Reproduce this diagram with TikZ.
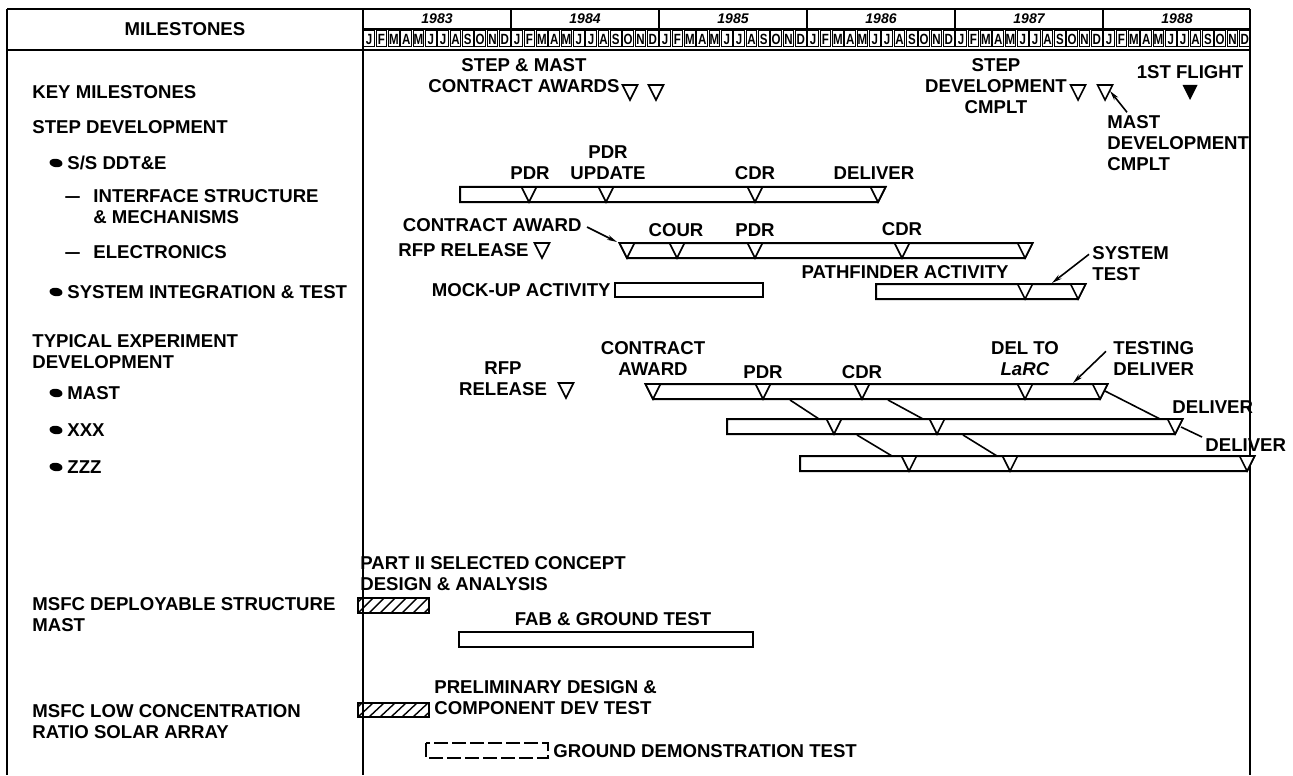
\documentclass[tikz,border=0pt]{standalone}
\usepackage{fontspec}
\setmainfont{Liberation Sans}
\usepackage{graphicx}
\usetikzlibrary{arrows.meta}
\newcommand\ml[1]{\scalebox{0.78}[1]{#1}}
\newcommand\labfont{\fontsize{9.3}{10.5}\selectfont\bfseries}
\begin{document}
\begin{tikzpicture}[x=0.5pt,y=-0.5pt,
  lab/.style={inner sep=0pt, font=\labfont, align=left},
  clab/.style={inner sep=0pt, font=\labfont, align=center},
  frame/.style={line width=1.1pt},
  barbox/.style={line width=1pt, fill=white},
  tri/.style={line width=0.8pt, line join=miter, fill=white},
  arr/.style={line width=0.8pt, -{Stealth[length=5pt,width=2.4pt]}},
  lead/.style={line width=0.8pt},
  yr/.style={inner sep=0pt, font=\fontsize{7}{8}\selectfont\bfseries\itshape},
  mo/.style={inner sep=0pt, font=\fontsize{7.4}{8}\selectfont\bfseries},
  mobox/.style={line width=0.5pt},
  bul/.style={x radius=6.5, y radius=4.2}]
\useasboundingbox (0,0) rectangle (1293,775);
\newcommand\tri[2]{\draw[tri] (#1-7.5,#2) -- (#1+7.5,#2) -- (#1,#2+15) -- cycle;}
% ---------- frame ----------
\draw[frame] (7,9) -- (1250,9);
\draw[frame] (7,9) -- (7,775);
\draw[frame] (1250,9) -- (1250,775);
\draw[frame] (363,9) -- (363,775);
\draw[frame] (7,50) -- (1250,50);
\draw[line width=0.8pt] (363,29) -- (1250,29);
\foreach \k/\yy in {0/1983,1/1984,2/1985,3/1986,4/1987,5/1988}{
  \draw[line width=0.8pt] (363+148*\k,9) -- (363+148*\k,29);
  \node[yr] (y\yy) at (363+148*\k+74,19) {\yy};
}
\foreach \m/\l in {0/J,1/F,2/M,3/A,4/M,5/J,6/J,7/A,8/S,9/O,10/N,11/D}{
  \foreach \k in {0,...,5}{
    \draw[mobox] (363+148*\k+12.333*\m+0.9,31) rectangle (363+148*\k+12.333*\m+11.4,47);
    \node[mo] (m\k-\m) at (363+148*\k+12.333*\m+6.17,39) {\ml{\l}};
  }
}
\node[lab] (hdr) at (185,29) {MILESTONES};
% ---------- left column ----------
\node[lab,anchor=west] (keym) at (32,92) {KEY MILESTONES};
\node[lab,anchor=west] (stepd) at (32,127) {STEP DEVELOPMENT};
\fill[rotate around={-8:(56,163)}] (56,163) ellipse [bul];
\node[lab,anchor=west] (ssd) at (67,163) {S/S DDT\&E};
\node[lab,anchor=base west] (d1) at (65,202.6) {\ml{—}};
\node[lab,anchor=north west] (ifs) at (93,189.3) {INTERFACE STRUCTURE\\\& MECHANISMS};
\node[lab,anchor=base west] (d2) at (65,258.6) {\ml{—}};
\node[lab,anchor=west] (elec) at (93,252) {ELECTRONICS};
\fill[rotate around={-8:(56,292)}] (56,292) ellipse [bul];
\node[lab,anchor=west] (sit) at (67,292) {SYSTEM INTEGRATION \& TEST};
\node[lab,anchor=north west] (typ) at (32,334.3) {TYPICAL EXPERIMENT\\DEVELOPMENT};
\fill[rotate around={-8:(56,393)}] (56,393) ellipse [bul];
\node[lab,anchor=west] (lmast) at (67,393) {MAST};
\fill[rotate around={-8:(56,430)}] (56,430) ellipse [bul];
\node[lab,anchor=west] (lxxx) at (67,430) {XXX};
\fill[rotate around={-8:(56,467)}] (56,467) ellipse [bul];
\node[lab,anchor=west] (lzzz) at (67,467) {ZZZ};
\node[lab,anchor=north west] (msfc1) at (32,597.3) {MSFC DEPLOYABLE STRUCTURE\\MAST};
\node[lab,anchor=north west] (msfc2) at (32,704.3) {MSFC LOW CONCENTRATION\\RATIO SOLAR ARRAY};
% ---------- key milestones ----------
\node[clab,anchor=north] (stepmast) at (524,58.3) {STEP \& MAST\\CONTRACT AWARDS};
\tri{630}{85}\tri{656}{85}
\node[clab,anchor=north] (stepdev) at (996,58.3) {STEP\\DEVELOPMENT\\CMPLT};
\tri{1078}{85}\tri{1105}{85}
\node[lab,anchor=north west] (mastdev) at (1107,115.3) {MAST\\DEVELOPMENT\\CMPLT};
\coordinate (mdtip) at (1110,91);
\draw[arr] ([shift={(20,-3)}]mastdev.north west) -- (mdtip);
\node[lab] (flight) at (1190,72) {1ST FLIGHT};
\fill (1182.5,85) -- (1197.5,85) -- (1190,100) -- cycle;
% ---------- S/S DDT&E : interface structure ----------
\draw[barbox] (460,187) -- (885.5,187) -- (878,202) -- (460,202) -- cycle;
\tri{529}{187}\tri{606}{187}\tri{755}{187}\tri{878}{187}
\node[lab] (pdr1) at (530,173) {PDR};
\node[clab,anchor=north] (pdrup) at (608,145.3) {PDR\\UPDATE};
\node[lab] (cdr1) at (755,173) {CDR};
\node[lab] (del1) at (874,173) {DELIVER};
% ---------- electronics ----------
\draw[barbox] (619.5,243) -- (1032.5,243) -- (1025,258) -- (627,258) -- cycle;
\tri{627}{243}\tri{677}{243}\tri{755}{243}\tri{902}{243}\tri{1025}{243}
\node[lab,anchor=east] (caward) at (582,225) {CONTRACT AWARD};
\coordinate (catip) at (617,242);
\draw[arr] ([shift={(5,2)}]caward.east) -- (catip);
\node[lab,anchor=east] (rfp1) at (529,250) {RFP RELEASE};
\tri{542}{243}
\node[lab] (cour) at (676,230) {COUR};
\node[lab] (pdr2) at (755,230) {PDR};
\node[lab] (cdr2) at (902,229) {CDR};
% ---------- system integration ----------
\node[lab,anchor=east] (mock) at (611,290) {MOCK-UP ACTIVITY};
\draw[barbox] (615,283) rectangle (763,297);
\node[lab,anchor=east] (path) at (1009,272) {PATHFINDER ACTIVITY};
\draw[barbox] (876,284) -- (1085.5,284) -- (1078,299) -- (876,299) -- cycle;
\tri{1025}{284}\tri{1078}{284}
\node[lab,anchor=north west] (systest) at (1092,246.3) {SYSTEM\\TEST};
\coordinate (sttip) at (1052,283);
\draw[arr] ([shift={(-3,8)}]systest.north west) -- (sttip);
% ---------- MAST ----------
\node[clab,anchor=north] (rfp2) at (503,361.3) {RFP\\RELEASE};
\tri{566}{383}
\node[clab,anchor=north] (caward2) at (653,341.3) {CONTRACT\\AWARD};
\draw[barbox] (645.5,384) -- (1107.5,384) -- (1100,399) -- (653,399) -- cycle;
\tri{653}{384}\tri{763}{384}\tri{862}{384}\tri{1025}{384}\tri{1100}{384}
\node[lab] (pdr3) at (763,372) {PDR};
\node[lab] (cdr3) at (862,372) {CDR};
\node[clab,anchor=north] (delto) at (1025,341.3) {DEL TO\\\textit{LaRC}};
\node[lab,anchor=north west] (testing) at (1113,341.3) {TESTING\\DELIVER};
\coordinate (tdtip) at (1073,383);
\draw[arr] ([shift={(-7,10)}]testing.north west) -- (tdtip);
% ---------- XXX ----------
\draw[barbox] (727,419) -- (1182.5,419) -- (1175,434) -- (727,434) -- cycle;
\tri{834}{419}\tri{937}{419}\tri{1175}{419}
\node[lab,anchor=west] (del2) at (1172,407) {DELIVER};
% ---------- ZZZ ----------
\draw[barbox] (800,456) -- (1254.5,456) -- (1247,471) -- (800,471) -- cycle;
\tri{909}{456}\tri{1010}{456}\tri{1247}{456}
\node[lab,anchor=west] (del3) at (1205,445) {DELIVER};
% ---------- leader lines ----------
\coordinate (a1) at (790,400); \coordinate (b1) at (819,419);
\coordinate (a2) at (888,400); \coordinate (b2) at (923,419);
\coordinate (a3) at (1105,391); \coordinate (b3) at (1160,419);
\coordinate (a4) at (857,435); \coordinate (b4) at (892,456);
\coordinate (a5) at (963,435); \coordinate (b5) at (997,456);
\coordinate (a6) at (1181,427);
\draw[lead] (a1) -- (b1);
\draw[lead] (a2) -- (b2);
\draw[lead] (a3) -- (b3);
\draw[lead] (a4) -- (b4);
\draw[lead] (a5) -- (b5);
\draw[lead] (a6) -- ([shift={(-3,-8)}]del3.west);
% ---------- MSFC deployable structure ----------
\node[lab,anchor=north west] (part2) at (360,556.3) {PART II SELECTED CONCEPT\\DESIGN \& ANALYSIS};
\begin{scope}
  \clip (358,598) rectangle (429,613);
  \foreach \i in {-1,...,7}{\draw[line width=0.7pt] (358+\i*11,613) -- (358+\i*11+15,598);}
\end{scope}
\draw[barbox,fill=none] (358,598) rectangle (429,613);
\node[lab] (fab) at (613,619) {FAB \& GROUND TEST};
\draw[barbox] (459,632) rectangle (753,647);
% ---------- MSFC solar array ----------
\node[lab,anchor=north west] (prelim) at (434,680.3) {PRELIMINARY DESIGN \&\\COMPONENT DEV TEST};
\begin{scope}
  \clip (358,703) rectangle (429,717);
  \foreach \i in {-1,...,7}{\draw[line width=0.7pt] (358+\i*11,717) -- (358+\i*11+15,703);}
\end{scope}
\draw[barbox,fill=none] (358,703) rectangle (429,717);
\draw[line width=1pt, dash pattern=on 7pt off 2pt] (426,743) rectangle (548,758);
\node[lab,anchor=west] (gdt) at (553,751) {GROUND DEMONSTRATION TEST};
\end{tikzpicture}
\end{document}
